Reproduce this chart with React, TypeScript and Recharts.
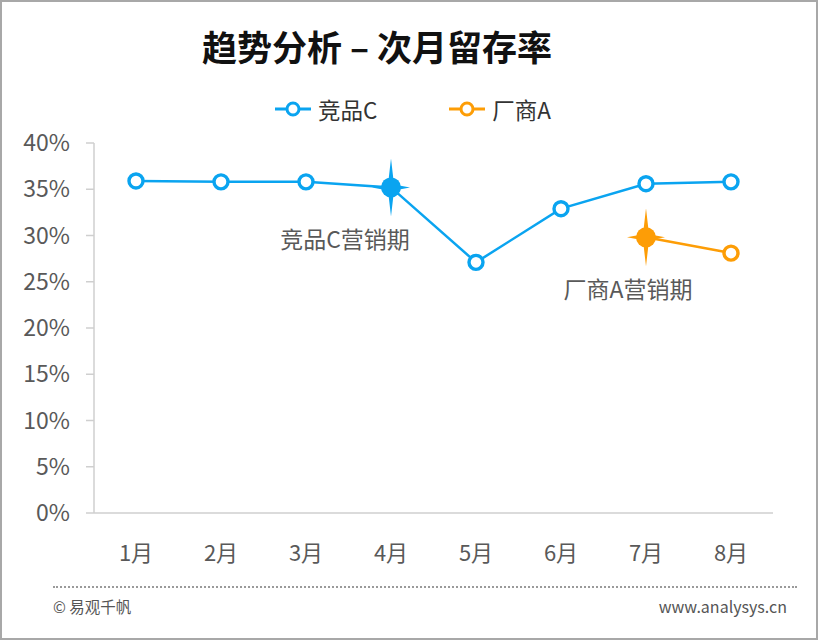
import * as React from "react";
import { LineChart, Line, XAxis, YAxis } from "recharts";

const months = ["1月", "2月", "3月", "4月", "5月", "6月", "7月", "8月"];
const compC = [35.9, 35.8, 35.8, 35.2, 27.1, 32.9, 35.6, 35.8];
const vendorA = [null, null, null, null, null, null, 29.8, 28.1];
const yTicks = [0, 5, 10, 15, 20, 25, 30, 35, 40];

const seriesNames = { compC: "竞品C", vendorA: "厂商A" };
const campaigns = [
    { key: "compC", month: "4月", text: "竞品C营销期" },
    { key: "vendorA", month: "7月", text: "厂商A营销期" },
];

const BLUE = "#0aa4f0";
const ORANGE = "#fd9d06";
const FONT = "'Noto Sans CJK SC', 'Noto Sans', sans-serif";

// label offsets relative to the star, per month
const labelShift: Record<string, number> = { "4月": -46, "7月": -18 };

const data = months.map((m, i) => ({ month: m, compC: compC[i], vendorA: vendorA[i] }));

function makeDot(key: string, color: string) {
    return (props: any) => {
        const { cx, cy, payload, index } = props;
        if (payload[key] == null || cx == null || cy == null) return <g key={`${key}-${index}`} />;
        const camp = campaigns.find((c) => c.key === key && c.month === payload.month);
        if (camp) {
            const h = 29, w = 19, k = 3;
            const d = `M${cx},${cy - h} L${cx + k},${cy - k} L${cx + w},${cy} L${cx + k},${cy + k} L${cx},${cy + h} L${cx - k},${cy + k} L${cx - w},${cy} L${cx - k},${cy - k} Z`;
            return (
                <g key={`${key}-${index}`}>
                    <path d={d} fill={color} />
                    <circle cx={cx} cy={cy} r={10} fill={color} />
                    <text x={cx + labelShift[camp.month]} y={cy + 54} textAnchor="middle" dominantBaseline="middle"
                        fontSize={23} fill="#595959" fontFamily={FONT}>{camp.text}</text>
                </g>
            );
        }
        return <circle key={`${key}-${index}`} cx={cx} cy={cy} r={7} fill="#fff" stroke={color} strokeWidth={3.4} />;
    };
}

function LegendItem({ name, color, gap }: { name: string; color: string; gap: number }) {
    return (
        <div style={{ display: "flex", alignItems: "center", marginRight: gap }}>
            <svg width={36} height={20}>
                <line x1={0} y1={10} x2={36} y2={10} stroke={color} strokeWidth={3} />
                <circle cx={18} cy={10} r={6} fill="#fff" stroke={color} strokeWidth={3} />
            </svg>
            <span style={{ marginLeft: 7, fontSize: 22.5, color: "#333" }}>{name}</span>
        </div>
    );
}

export default function App() {
    return (
        <div style={{ position: "fixed", left: 0, top: 0, width: 818, height: 640, boxSizing: "border-box",
            border: "2px solid #a8a8a8", background: "#fff", fontFamily: FONT, overflow: "hidden" }}>
            <div style={{ position: "absolute", left: -2, top: -2 }}>
                <LineChart width={818} height={640} data={data} margin={{ top: 143, right: 45, bottom: 67, left: 0 }}>
                    <XAxis dataKey="month" axisLine={{ stroke: "#cfcfcf", strokeWidth: 1.5 }} tickLine={false}
                        tickSize={0} tickMargin={32} height={60} interval={0} padding={{ left: 42, right: 42 }}
                        tick={{ fontSize: 22, fill: "#595959", fontFamily: FONT }} />
                    <YAxis domain={[0, 40]} ticks={yTicks} tickFormatter={(v) => `${v}%`} width={94}
                        axisLine={{ stroke: "#cfcfcf", strokeWidth: 1.5 }} tickLine={{ stroke: "#cfcfcf", strokeWidth: 1.5 }}
                        tickSize={8} tickMargin={16} interval={0}
                        tick={{ fontSize: 23, fill: "#595959", fontFamily: FONT }} />
                    <Line dataKey="compC" name={seriesNames.compC} stroke={BLUE} strokeWidth={2.5}
                        dot={makeDot("compC", BLUE)} activeDot={false} isAnimationActive={false} />
                    <Line dataKey="vendorA" name={seriesNames.vendorA} stroke={ORANGE} strokeWidth={2.5}
                        dot={makeDot("vendorA", ORANGE)} activeDot={false} isAnimationActive={false} />
                </LineChart>
            </div>
            <div style={{ position: "absolute", left: 0, width: 750, top: 18, textAlign: "center",
                fontSize: 35, fontWeight: 700, color: "#111" }}>
                趋势分析 – 次月留存率
            </div>
            <div style={{ position: "absolute", left: 273, top: 91, display: "flex" }}>
                <LegendItem name={seriesNames.compC} color={BLUE} gap={72} />
                <LegendItem name={seriesNames.vendorA} color={ORANGE} gap={0} />
            </div>
            <div style={{ position: "absolute", left: 51, right: 19, top: 584, borderTop: "2px dotted #9a9a9a" }} />
            <div style={{ position: "absolute", left: 51, top: 593, fontSize: 15.5, color: "#555" }}>© 易观千帆</div>
            <div style={{ position: "absolute", right: 29, top: 592, fontSize: 16, color: "#555" }}>www.analysys.cn</div>
        </div>
    );
}
